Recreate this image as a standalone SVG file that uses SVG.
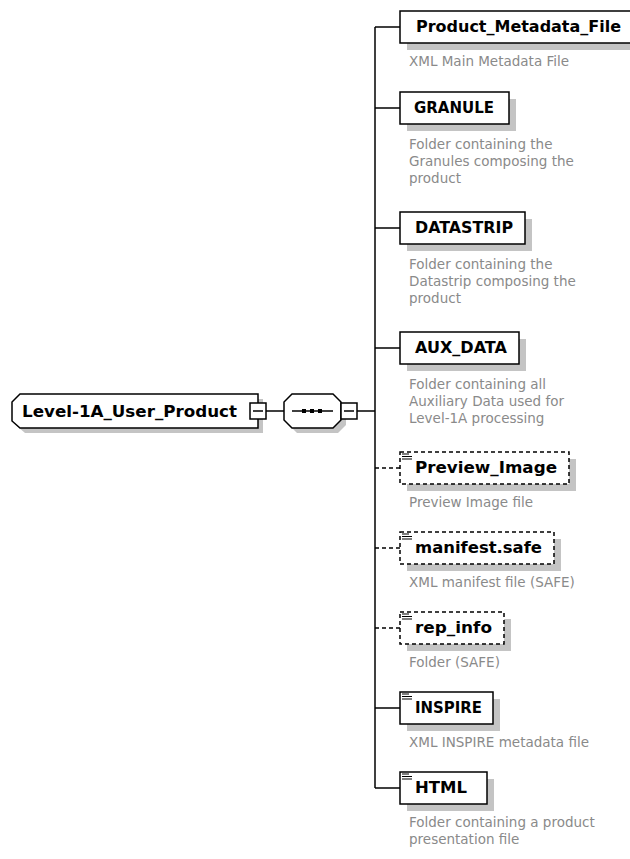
<svg xmlns="http://www.w3.org/2000/svg" width="630" height="859" viewBox="0 0 630 859">
<style>
.lbl{font-family:"DejaVu Sans",sans-serif;font-weight:bold;font-size:15.5px;fill:#000}
.desc{font-family:"DejaVu Sans",sans-serif;font-size:13.5px;fill:#8a8a8a}
.box{fill:#fff;stroke:#000;stroke-width:1.5}
.opt{stroke-dasharray:4 3}
.sh{fill:#c4c4c4}
.ln{stroke:#000;stroke-width:1.5;fill:none}
.icon{stroke:#000;stroke-width:1.2;fill:none}
</style>
<rect width="630" height="859" fill="#fff"/>
<g id="connectors">
<line class="ln" x1="266" y1="411" x2="284" y2="411"/>
<line class="ln" x1="357" y1="411" x2="375" y2="411"/>
<line class="ln" x1="375" y1="27" x2="375" y2="788"/>
<line class="ln" x1="375" y1="27" x2="400" y2="27"/>
<line class="ln" x1="375" y1="108" x2="400" y2="108"/>
<line class="ln" x1="375" y1="228" x2="400" y2="228"/>
<line class="ln" x1="375" y1="348" x2="400" y2="348"/>
<line class="ln opt" x1="375" y1="468" x2="400" y2="468"/>
<line class="ln opt" x1="375" y1="548" x2="400" y2="548"/>
<line class="ln opt" x1="375" y1="628" x2="400" y2="628"/>
<line class="ln" x1="375" y1="708" x2="400" y2="708"/>
<line class="ln" x1="375" y1="788" x2="400" y2="788"/>
</g>
<g id="root">
<path class="sh" d="M25,399 H263 V433 H25 L17,426 V407 Z"/>
<path class="box" d="M20,394 H258 V428 H20 L12,421 V402 Z"/>
<text class="lbl" x="22" y="417" textLength="215" lengthAdjust="spacingAndGlyphs">Level-1A_User_Product</text>
<rect class="box" x="250" y="403" width="16" height="16"/>
<line class="ln" x1="253" y1="411" x2="263" y2="411"/>
</g>
<g id="sequence">
<path class="sh" d="M297,399 H338 L346,407 V425 L338,433 H297 L289,425 V407 Z"/>
<path class="box" d="M292,394 H333 L341,402 V420 L333,428 H292 L284,420 V402 Z"/>
<line class="ln" x1="292" y1="411" x2="333" y2="411"/>
<rect x="302" y="409" width="4" height="4" fill="#000"/>
<rect x="310" y="409" width="4" height="4" fill="#000"/>
<rect x="318" y="409" width="4" height="4" fill="#000"/>
<rect class="box" x="341" y="403" width="16" height="16"/>
<line class="ln" x1="344" y1="411" x2="354" y2="411"/>
</g>
<g id="Product_Metadata_File">
<rect class="sh" x="407" y="18" width="230" height="32"/>
<rect class="box" x="400" y="11" width="234" height="32"/>
<text class="lbl" x="416" y="32" textLength="205" lengthAdjust="spacingAndGlyphs">Product_Metadata_File</text>
<text class="desc" x="409" y="66">XML Main Metadata File</text>
</g>
<g id="GRANULE">
<rect class="sh" x="407" y="99" width="109" height="32"/>
<rect class="box" x="400" y="92" width="109" height="32"/>
<text class="lbl" x="414" y="113" textLength="80" lengthAdjust="spacingAndGlyphs">GRANULE</text>
<text class="desc" x="409" y="149">Folder containing the</text>
<text class="desc" x="409" y="166">Granules composing the</text>
<text class="desc" x="409" y="183">product</text>
</g>
<g id="DATASTRIP">
<rect class="sh" x="407" y="219" width="125" height="32"/>
<rect class="box" x="400" y="212" width="125" height="32"/>
<text class="lbl" x="415" y="233" textLength="98" lengthAdjust="spacingAndGlyphs">DATASTRIP</text>
<text class="desc" x="409" y="269">Folder containing the</text>
<text class="desc" x="409" y="286">Datastrip composing the</text>
<text class="desc" x="409" y="303">product</text>
</g>
<g id="AUX_DATA">
<rect class="sh" x="407" y="339" width="119" height="32"/>
<rect class="box" x="400" y="332" width="119" height="32"/>
<text class="lbl" x="415" y="353" textLength="92" lengthAdjust="spacingAndGlyphs">AUX_DATA</text>
<text class="desc" x="409" y="389">Folder containing all</text>
<text class="desc" x="409" y="406">Auxiliary Data used for</text>
<text class="desc" x="409" y="423">Level-1A processing</text>
</g>
<g id="Preview_Image">
<rect class="sh" x="407" y="459" width="169" height="32"/>
<rect class="box opt" x="400" y="452" width="169" height="32"/>
<path class="icon" d="M402,454 H409 M402,456.5 H412 M402,459 H412"/>
<text class="lbl" x="415" y="473" textLength="142" lengthAdjust="spacingAndGlyphs">Preview_Image</text>
<text class="desc" x="409" y="507">Preview Image file</text>
</g>
<g id="manifest.safe">
<rect class="sh" x="407" y="539" width="154" height="32"/>
<rect class="box opt" x="400" y="532" width="154" height="32"/>
<path class="icon" d="M402,534 H409 M402,536.5 H412 M402,539 H412"/>
<text class="lbl" x="415" y="553" textLength="127" lengthAdjust="spacingAndGlyphs">manifest.safe</text>
<text class="desc" x="409" y="587">XML manifest file (SAFE)</text>
</g>
<g id="rep_info">
<rect class="sh" x="407" y="619" width="104" height="32"/>
<rect class="box opt" x="400" y="612" width="104" height="32"/>
<path class="icon" d="M402,614 H409 M402,616.5 H412 M402,619 H412"/>
<text class="lbl" x="415" y="633" textLength="77" lengthAdjust="spacingAndGlyphs">rep_info</text>
<text class="desc" x="409" y="667">Folder (SAFE)</text>
</g>
<g id="INSPIRE">
<rect class="sh" x="407" y="699" width="93" height="32"/>
<rect class="box" x="400" y="692" width="93" height="32"/>
<path class="icon" d="M402,694 H409 M402,696.5 H412 M402,699 H412"/>
<text class="lbl" x="415" y="713" textLength="67" lengthAdjust="spacingAndGlyphs">INSPIRE</text>
<text class="desc" x="409" y="747">XML INSPIRE metadata file</text>
</g>
<g id="HTML">
<rect class="sh" x="407" y="779" width="87" height="32"/>
<rect class="box" x="400" y="772" width="87" height="32"/>
<path class="icon" d="M402,774 H409 M402,776.5 H412 M402,779 H412"/>
<text class="lbl" x="415" y="793" textLength="52" lengthAdjust="spacingAndGlyphs">HTML</text>
<text class="desc" x="409" y="827">Folder containing a product</text>
<text class="desc" x="409" y="844">presentation file</text>
</g>
</svg>
